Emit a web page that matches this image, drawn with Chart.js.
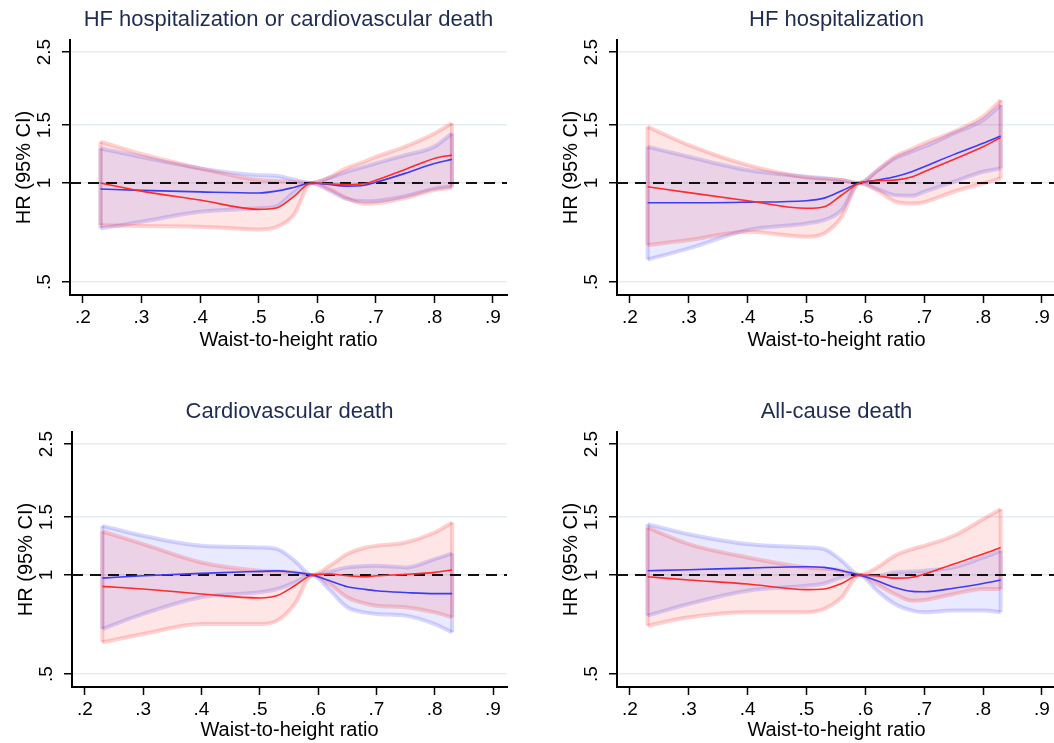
<!DOCTYPE html>
<html>
<head>
<meta charset="utf-8">
<script src="https://cdn.jsdelivr.net/npm/chart.js@4.4.1/dist/chart.umd.min.js"></script>
<style>
  html, body { margin: 0; padding: 0; background: #fff; overflow: hidden; }
  body { width: 1054px; height: 743px; position: relative; }
  canvas { position: absolute; }
</style>
</head>
<body>
<canvas id="c1" width="527" height="365" style="left:0;top:0"></canvas>
<canvas id="c2" width="527" height="365" style="left:547px;top:0"></canvas>
<canvas id="c3" width="527" height="353" style="left:2px;top:390px"></canvas>
<canvas id="c4" width="527" height="353" style="left:547px;top:390px"></canvas>
<script>
// x grid of the spline estimates (waist-to-height ratio)
const wthr = [0.23, 0.3, 0.4, 0.5, 0.53, 0.56, 0.59, 0.62, 0.65, 0.68, 0.7, 0.75, 0.8, 0.83];
const wthrTicks = [0.2, 0.3, 0.4, 0.5, 0.6, 0.7, 0.8, 0.9];
const hrTicks = [0.5, 1, 1.5, 2.5];
const refHR = 1;
const panelTitles = ['HF hospitalization or cardiovascular death', 'HF hospitalization', 'Cardiovascular death', 'All-cause death'];

// HF hospitalization or cardiovascular death
const hfcvdRed   = [1.0, 0.945, 0.888, 0.832, 0.84, 0.91, 1, 0.995, 0.99, 0.995, 1.019, 1.10, 1.188, 1.216];
const hfcvdRedLo = [0.745, 0.74, 0.737, 0.723, 0.735, 0.80, 1, 0.96, 0.90, 0.865, 0.868, 0.90, 0.952, 0.968];
const hfcvdRedHi = [1.335, 1.225, 1.108, 1.021, 1.015, 1.008, 1, 1.04, 1.11, 1.16, 1.20, 1.29, 1.415, 1.52];
const hfcvdBlue   = [0.959, 0.95, 0.94, 0.933, 0.945, 0.97, 1, 0.99, 0.979, 0.985, 1.005, 1.07, 1.147, 1.18];
const hfcvdBlueLo = [0.728, 0.763, 0.818, 0.838, 0.85, 0.935, 1, 0.95, 0.895, 0.88, 0.882, 0.912, 0.962, 0.978];
const hfcvdBlueHi = [1.274, 1.20, 1.108, 1.057, 1.052, 1.025, 1, 1.035, 1.082, 1.12, 1.147, 1.215, 1.29, 1.415];

// HF hospitalization
const hfRed   = [0.975, 0.935, 0.884, 0.838, 0.847, 0.92, 1, 1.016, 1.021, 1.045, 1.082, 1.18, 1.289, 1.376];
const hfRedLo = [0.648, 0.671, 0.711, 0.687, 0.703, 0.79, 1, 0.95, 0.88, 0.866, 0.875, 0.941, 0.998, 1.033];
const hfRedHi = [1.483, 1.304, 1.134, 1.04, 1.03, 1.021, 1, 1.09, 1.202, 1.27, 1.32, 1.432, 1.591, 1.786];
const hfBlue   = [0.871, 0.871, 0.875, 0.884, 0.9, 0.948, 1, 1.021, 1.045, 1.085, 1.121, 1.22, 1.32, 1.389];
const hfBlueLo = [0.586, 0.633, 0.72, 0.754, 0.772, 0.828, 1, 0.96, 0.919, 0.915, 0.941, 1.009, 1.082, 1.108];
const hfBlueHi = [1.289, 1.202, 1.095, 1.045, 1.035, 1.021, 1, 1.09, 1.188, 1.25, 1.289, 1.415, 1.554, 1.726];

// Cardiovascular death
const cvdRed   = [0.924, 0.907, 0.876, 0.852, 0.866, 0.928, 1, 1.007, 0.995, 0.988, 0.995, 1.005, 1.019, 1.036];
const cvdRedLo = [0.625, 0.662, 0.71, 0.71, 0.727, 0.817, 1, 0.939, 0.856, 0.82, 0.807, 0.798, 0.77, 0.744];
const cvdRedHi = [1.356, 1.242, 1.092, 1.03, 1.025, 1.019, 1, 1.067, 1.158, 1.21, 1.227, 1.256, 1.347, 1.444];
const cvdBlue   = [0.979, 0.995, 1.012, 1.026, 1.03, 1.019, 1, 0.961, 0.922, 0.905, 0.896, 0.885, 0.878, 0.878];
const cvdBlueLo = [0.686, 0.762, 0.856, 0.886, 0.907, 0.95, 1, 0.9, 0.798, 0.77, 0.762, 0.753, 0.71, 0.67];
const cvdBlueHi = [1.411, 1.316, 1.227, 1.213, 1.199, 1.105, 1, 1.025, 1.055, 1.065, 1.067, 1.055, 1.118, 1.163];

// All-cause death
const acdRed   = [0.988, 0.966, 0.939, 0.903, 0.907, 0.943, 1, 0.995, 0.979, 0.985, 1.007, 1.08, 1.158, 1.213];
const acdRedLo = [0.702, 0.744, 0.771, 0.771, 0.789, 0.856, 1, 0.939, 0.876, 0.836, 0.84, 0.876, 0.907, 0.907];
const acdRedHi = [1.394, 1.242, 1.131, 1.055, 1.045, 1.031, 1, 1.055, 1.144, 1.2, 1.227, 1.316, 1.478, 1.585];
const acdBlue   = [1.031, 1.038, 1.05, 1.06, 1.055, 1.031, 1, 0.961, 0.917, 0.892, 0.89, 0.912, 0.943, 0.966];
const acdBlueLo = [0.753, 0.817, 0.896, 0.928, 0.943, 0.984, 1, 0.896, 0.817, 0.78, 0.771, 0.78, 0.78, 0.771];
const acdBlueHi = [1.427, 1.331, 1.242, 1.213, 1.199, 1.105, 1, 0.995, 1.019, 1.025, 1.031, 1.055, 1.131, 1.185];

const panels = [
  { id: 'c1', title: panelTitles[0], red: [hfcvdRed, hfcvdRedLo, hfcvdRedHi], blue: [hfcvdBlue, hfcvdBlueLo, hfcvdBlueHi] },
  { id: 'c2', title: panelTitles[1], red: [hfRed, hfRedLo, hfRedHi], blue: [hfBlue, hfBlueLo, hfBlueHi] },
  { id: 'c3', title: panelTitles[2], red: [cvdRed, cvdRedLo, cvdRedHi], blue: [cvdBlue, cvdBlueLo, cvdBlueHi] },
  { id: 'c4', title: panelTitles[3], red: [acdRed, acdRedLo, acdRedHi], blue: [acdBlue, acdBlueLo, acdBlueHi] },
];

// layout per panel (canvas px)
const layouts = [
  { padRight: 20, titlePad: { top: 9, bottom: 9 }, xH: 70, xTitlePad: 13 },
  { padRight: 18, titlePad: { top: 9, bottom: 9 }, xH: 70, xTitlePad: 13 },
  { padRight: 22, titlePad: { top: 11, bottom: 9 }, xH: 56, xTitlePad: 1 },
  { padRight: 18, titlePad: { top: 11, bottom: 9 }, xH: 56, xTitlePad: 1 },
];

Chart.defaults.font.family = '"Liberation Sans", Arial, Helvetica, sans-serif';
Chart.defaults.color = '#000';

const fmt = v => (v < 1 ? String(v).replace(/^0/, '') : String(v));
const pts = ys => wthr.map((x, i) => ({ x, y: ys[i] }));
const cap = (lo, hi, i) => [{ x: wthr[i], y: lo[i] }, { x: wthr[i], y: hi[i] }];

function bandSets(lo, hi, fill, edge, order) {
  const last = wthr.length - 1;
  const base = { borderColor: edge, borderWidth: 4, pointRadius: 0, order, fill: false };
  return [
    { ...base, data: pts(lo), cubicInterpolationMode: 'monotone' },
    { ...base, data: pts(hi), cubicInterpolationMode: 'monotone', fill: '-1', backgroundColor: fill },
    { ...base, data: cap(lo, hi, 0), tension: 0 },
    { ...base, data: cap(lo, hi, last), tension: 0 },
  ];
}

// dashed HR = 1 line, drawn over the bands but under the estimate lines
const refLine = {
  id: 'refLine',
  beforeDatasetDraw(chart, args) {
    if (!chart.data.datasets[args.index].refBefore) return;
    const { ctx, chartArea } = chart;
    const y = chart.scales.y.getPixelForValue(refHR);
    ctx.save();
    ctx.strokeStyle = '#111';
    ctx.lineWidth = 2;
    ctx.setLineDash([11, 7]);
    ctx.beginPath();
    ctx.moveTo(chartArea.left, y);
    ctx.lineTo(chartArea.right, y);
    ctx.stroke();
    ctx.restore();
  }
};

panels.forEach((p, k) => {
  const lay = layouts[k];
  const [rEst, rLo, rHi] = p.red;
  const [bEst, bLo, bHi] = p.blue;
  const datasets = [
    ...bandSets(bLo, bHi, 'rgba(40,40,255,0.10)', 'rgba(40,40,255,0.18)', 5),
    ...bandSets(rLo, rHi, 'rgba(255,30,30,0.11)', 'rgba(255,30,30,0.20)', 4),
    { data: pts(bEst), borderColor: '#3c3cf2', borderWidth: 1.6, pointRadius: 0, fill: false,
      cubicInterpolationMode: 'monotone', order: 1, refBefore: true },
    { data: pts(rEst), borderColor: '#ff2b2b', borderWidth: 1.6, pointRadius: 0, fill: false,
      cubicInterpolationMode: 'monotone', order: 0 },
  ];

  new Chart(document.getElementById(p.id), {
    type: 'line',
    data: { datasets },
    plugins: [refLine],
    options: {
      responsive: false,
      animation: false,
      events: [],
      layout: { padding: { left: 0, right: lay.padRight, top: 0, bottom: 0 } },
      plugins: {
        legend: { display: false },
        tooltip: { enabled: false },
        title: {
          display: true,
          text: p.title,
          color: '#1f2c52',
          fullSize: false,
          font: { size: 22, weight: 'normal', lineHeight: 1 },
          padding: lay.titlePad
        }
      },
      scales: {
        x: {
          type: 'linear',
          min: 0.178,
          max: 0.924,
          afterBuildTicks: s => { s.ticks = wthrTicks.map(v => ({ value: v })); },
          afterFit: s => { s.height = lay.xH; },
          ticks: { callback: v => fmt(v), font: { size: 19 }, padding: 3, maxRotation: 0, color: '#000' },
          grid: { drawOnChartArea: false, tickColor: '#000', tickLength: 8, tickWidth: 1.5 },
          border: { color: '#000', width: 2 },
          title: { display: true, text: 'Waist-to-height ratio', font: { size: 20 }, padding: { top: 0, bottom: lay.xTitlePad }, color: '#000' }
        },
        y: {
          type: 'logarithmic',
          min: 0.457,
          max: 2.72,
          afterBuildTicks: s => { s.ticks = hrTicks.map(v => ({ value: v })); },
          afterFit: s => { s.width = 70; },
          ticks: { callback: v => fmt(v), font: { size: 19 }, minRotation: 90, maxRotation: 90, crossAlign: 'center', padding: 4, color: '#000' },
          grid: { color: '#e4edf1', lineWidth: 1.5, tickColor: '#000', tickLength: 8, tickWidth: 1.5 },
          border: { color: '#000', width: 2 },
          title: { display: true, text: 'HR (95% CI)', font: { size: 20 }, padding: { top: 12, bottom: 0 }, color: '#000' }
        }
      }
    }
  });
});
</script>
</body>
</html>
